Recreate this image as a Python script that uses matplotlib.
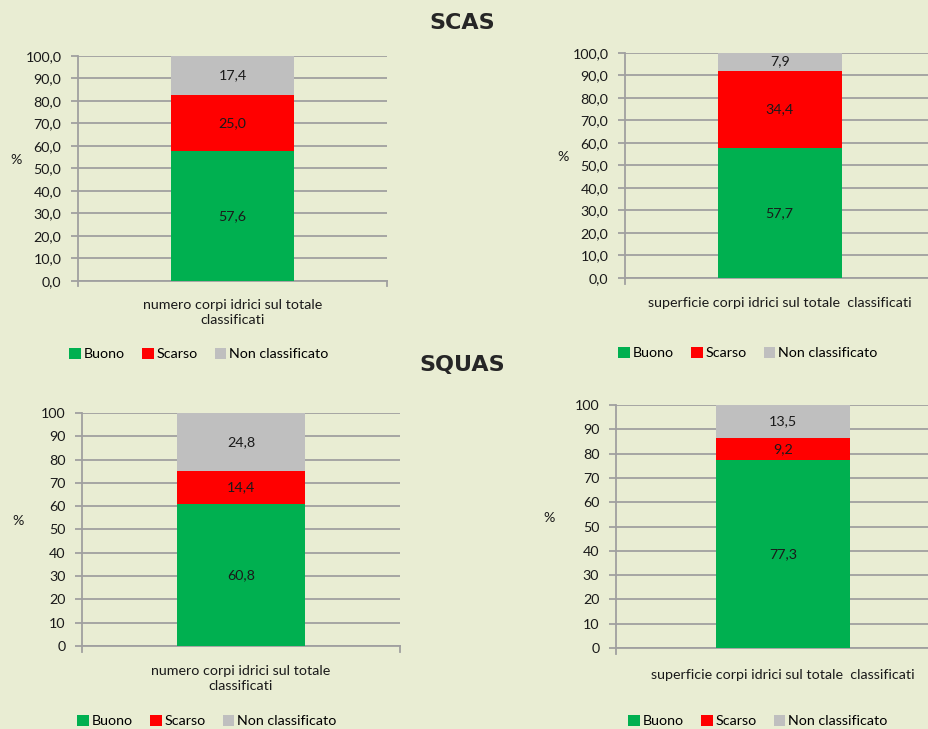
import numpy as np
import matplotlib.pyplot as plt
from matplotlib.patches import Patch

# dati (percentuali)
serie = ["Buono", "Scarso", "Non classificato"]
colori = ["#00B050", "#FF0000", "#BFBFBF"]

cat_numero = "numero corpi idrici sul totale\nclassificati"
cat_superficie = "superficie corpi idrici sul totale  classificati"

scas_numero = [57.6, 25.0, 17.4]
scas_superficie = [57.7, 34.4, 7.9]
squas_numero = [60.8, 14.4, 24.8]
squas_superficie = [77.3, 9.2, 13.5]

yticks = np.arange(0, 101, 10)

sfondo = "#E9EDD3"
grigio = "#A0A0A0"
testo = "#1a1a1a"
fs = 10.3

plt.rcParams['font.family'] = ['Lato', 'DejaVu Sans']
plt.rcParams['font.size'] = fs

fig = plt.figure(figsize=(9.29, 7.29), dpi=100, facecolor=sfondo)


def pannello(rect, valori, categoria, decimali, pad):
    ax = fig.add_axes(rect)
    ax.patch.set_alpha(0)
    base = 0
    for v, c in zip(valori, colori):
        ax.bar(0.5, v, width=0.4, bottom=base, color=c, zorder=3)
        ax.text(0.5, base + v / 2, f"{v:.1f}".replace(".", ","),
                ha="center", va="center", fontsize=fs, color=testo, zorder=4)
        base += v
    ax.set_xlim(0, 1)
    ax.set_ylim(0, 100)
    ax.set_yticks(yticks)
    if decimali:
        ax.set_yticklabels([f"{t:.1f}".replace(".", ",") for t in yticks])
    else:
        ax.set_yticklabels([str(t) for t in yticks])
    ax.yaxis.grid(True, color=grigio, linewidth=1.3, zorder=0)
    ax.set_xticks([0.5])
    ax.set_xticklabels([categoria], fontsize=fs, color=testo, linespacing=1.3)
    ax.tick_params(axis="x", length=0, pad=pad)
    ax.tick_params(axis="y", length=5, color=grigio, width=1.3,
                   labelcolor=testo, labelsize=fs, pad=7)
    for s in ["top", "right"]:
        ax.spines[s].set_visible(False)
    for s in ["left", "bottom"]:
        ax.spines[s].set_color(grigio)
        ax.spines[s].set_linewidth(1.3)
    # tacca verticale all'estremita dell'asse categorie
    ax.plot([0, 0], [0, -2.5], color=grigio, lw=1.3, clip_on=False)
    ax.plot([1, 1], [0, -2.5], color=grigio, lw=1.3, clip_on=False)
    ax.set_ylabel("%", rotation=0, fontsize=fs, color=testo)
    ax.yaxis.set_label_coords(-0.2, 0.51)
    return ax


pannello([0.084, 0.615, 0.3326, 0.3086], scas_numero, cat_numero, True, 13)
pannello([0.6728, 0.6187, 0.333, 0.309], scas_superficie, cat_superficie, True, 14)
pannello([0.0883, 0.1139, 0.3423, 0.3196], squas_numero, cat_numero, False, 14)
pannello([0.663, 0.1111, 0.3596, 0.3333], squas_superficie, cat_superficie, False, 15)

fig.text(0.497, 0.969, "SCAS", ha="center", va="center", fontsize=16,
         fontweight="bold", family="DejaVu Sans", color="#262626")
fig.text(0.497, 0.499, "SQUAS", ha="center", va="center", fontsize=16,
         fontweight="bold", family="DejaVu Sans", color="#262626")

maniglie = [Patch(facecolor=c, edgecolor="none") for c in colori]
for (x, y) in [(199 / 929, 1 - 354 / 729), (748 / 929, 1 - 353 / 729),
               (207 / 929, 1 - 721 / 729), (758 / 929, 1 - 721 / 729)]:
    fig.legend(maniglie, serie, loc="center", bbox_to_anchor=(x, y), ncol=3,
               frameon=False, fontsize=fs, handlelength=0.8, handleheight=0.8,
               handletextpad=0.2, columnspacing=1.2, borderpad=0)

fig.savefig("out.png", dpi=100, facecolor=sfondo)
